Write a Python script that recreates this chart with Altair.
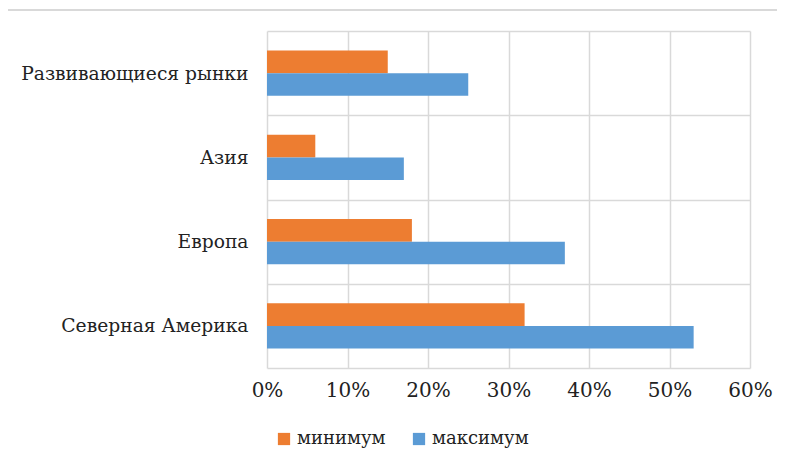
import altair as alt
import pandas as pd

categories = ["Развивающиеся рынки", "Азия", "Европа", "Северная Америка"]
series = ["минимум", "максимум"]
min_values = [0.15, 0.06, 0.18, 0.32]
max_values = [0.25, 0.17, 0.37, 0.53]
x_ticks = [0, 0.1, 0.2, 0.3, 0.4, 0.5, 0.6]
colors = ["#ED7D31", "#5B9BD5"]

rows = []
for c, mn, mx in zip(categories, min_values, max_values):
    rows.append({"category": c, "series": series[0], "value": mn})
    rows.append({"category": c, "series": series[1], "value": mx})
df = pd.DataFrame(rows)

FONT = "DejaVu Serif"

bars = alt.Chart(df).mark_bar().encode(
    x=alt.X("value:Q",
            scale=alt.Scale(domain=[0, 0.6], nice=False),
            axis=alt.Axis(values=x_ticks, format=".0%", title=None,
                          domain=False, ticks=False, labelPadding=12,
                          labelFlush=False, labelOverlap=False,
                          labelFontSize=20, labelFont=FONT, labelColor="#222",
                          grid=True, gridColor="#D9D9D9", gridWidth=1.5)),
    y=alt.Y("category:N", sort=categories,
            scale=alt.Scale(paddingInner=0, paddingOuter=0),
            axis=alt.Axis(title=None, domain=False, ticks=False, labelPadding=19,
                          labelFontSize=18.7, labelFont=FONT, labelColor="#222",
                          grid=True, gridColor="#D9D9D9", gridWidth=1.5,
                          tickBand="extent", labelLimit=300)),
    yOffset=alt.YOffset("series:N", sort=series,
                        scale=alt.Scale(paddingInner=0, paddingOuter=0.87)),
    color=alt.Color("series:N", sort=series,
                    scale=alt.Scale(domain=series, range=colors),
                    legend=alt.Legend(title=None, orient="none", direction="horizontal",
                                      legendX=8, legendY=399,
                                      symbolType="square", symbolSize=150,
                                      symbolStrokeWidth=0,
                                      labelFontSize=18, labelFont=FONT, labelColor="#222",
                                      columnPadding=24, labelOffset=4)),
)

frame = alt.Chart(df).mark_rect(fill=None, stroke="#D9D9D9", strokeWidth=2).encode(
    x=alt.value(-260), x2=alt.value(700),
    y=alt.value(-21), y2=alt.value(500),
)

chart = alt.layer(frame, bars).properties(
    width=483, height=337,
    autosize=alt.AutoSizeParams(type="none"),
    padding={"left": 259, "top": 23, "right": 27, "bottom": 91},
).configure_view(stroke=None)

chart.save("out.html", embed_options={"renderer": "svg", "actions": False})
